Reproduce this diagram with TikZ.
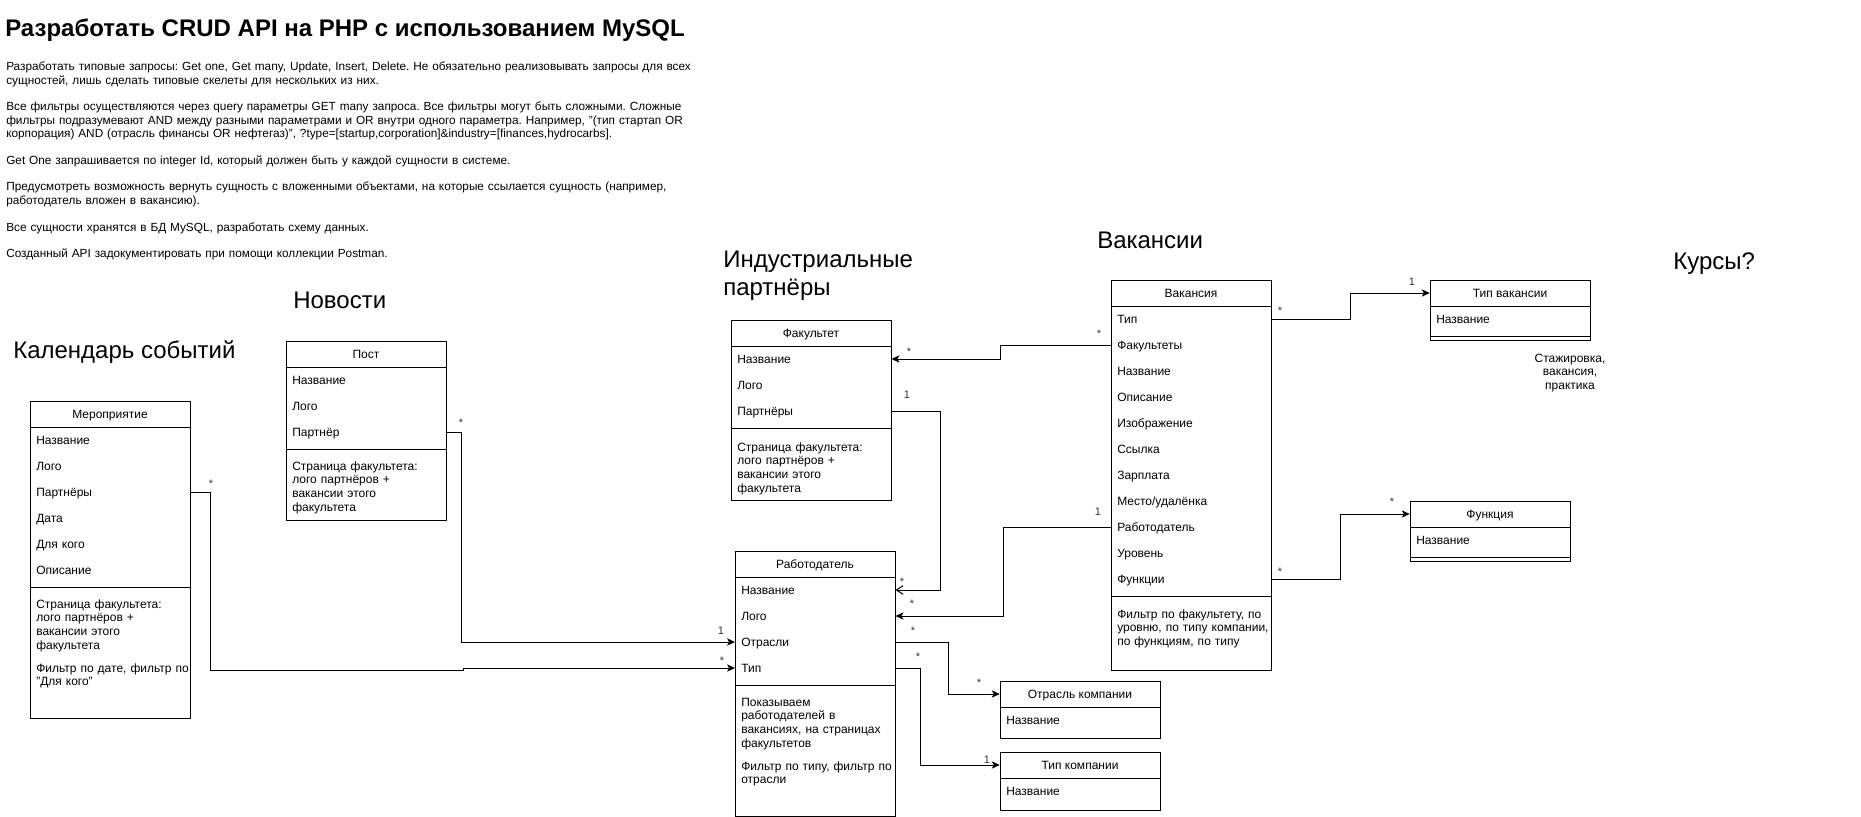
\documentclass[tikz,border=0pt]{standalone}
\usepackage{fontspec}
\setmainfont{Liberation Sans}
\usetikzlibrary{arrows.meta}
\frenchspacing
\newcommand\fBox{\fontsize{9pt}{10.35pt}\selectfont}
\newcommand\fBody{\fontsize{8.85pt}{10pt}\selectfont}
\newcommand\fHead{\fontsize{18pt}{21.6pt}\selectfont}
\newcommand\fTitle{\fontsize{18pt}{21.6pt}\bfseries\selectfont}
\newcommand\fLab{\fontsize{8.25pt}{9.5pt}\selectfont}
\begin{document}
\begin{tikzpicture}[x=0.75pt,y=-0.75pt,
  box/.style={draw=black,line width=0.75pt},
  hdr/.style={inner sep=0pt,minimum width=120pt,minimum height=19.5pt,text height=8pt,text depth=1.6pt,font=\fBox},
  row/.style={anchor=west,inner xsep=4.5pt,inner ysep=0pt,minimum width=120pt,minimum height=19.5pt,text width=111pt,align=left,text height=8pt,text depth=1.6pt,font=\fBox},
  note/.style={anchor=base west,inner sep=0pt,text width=140pt,align=left,font=\fBox},
  body/.style={anchor=base west,inner sep=0pt,text width=600pt,align=left,font=\fBody},
  head/.style={anchor=base west,inner sep=0pt,font=\fHead},
  headm/.style={anchor=base west,inner sep=0pt,text width=220pt,align=left,font=\fHead},
  lab/.style={anchor=base,inner sep=0pt,font=\fLab,text=black!80},
  conn/.style={line width=0.75pt,-{Stealth[length=6pt,width=5.5pt,inset=1.6pt]}},
  openc/.style={line width=0.75pt,-{Straight Barb[length=5pt,width=6.5pt]}},
]
\useasboundingbox (0,0) rectangle (1861,817);
\fill[white] (0,0) rectangle (1861,817);

% ---------- title and description ----------
\node[anchor=base west,inner sep=0pt,font=\fTitle] (title) at (5,37) {Разработать CRUD API на PHP с использованием MySQL};
\node[body] (p1) at (6,71) {Разработать типовые запросы: Get one, Get many, Update, Insert, Delete. Не обязательно реализовывать запросы для всех\\сущностей, лишь сделать типовые скелеты для нескольких из них.};
\node[body] (p2) at (6,110.7) {Все фильтры осуществляются через query параметры GET many запроса. Все фильтры могут быть сложными. Сложные\\фильтры подразумевают AND между разными параметрами и OR внутри одного параметра. Например, "(тип стартап OR\\корпорация) AND (отрасль финансы OR нефтегаз)", ?type=[startup,corporation]\&industry=[finances,hydrocarbs].};
\node[body] (p3) at (6,164) {Get One запрашивается по integer Id, который должен быть у каждой сущности в системе.};
\node[body] (p4) at (6,190.7) {Предусмотреть возможность вернуть сущность с вложенными объектами, на которые ссылается сущность (например,\\работодатель вложен в вакансию).};
\node[body] (p5) at (6,231) {Все сущности хранятся в БД MySQL, разработать схему данных.};
\node[body] (p6) at (6,257.7) {Созданный API задокументировать при помощи коллекции Postman.};

% ---------- headings ----------
\node[head] (hcal) at (13,358) {Календарь событий};
\node[head] (hnews) at (293,308) {Новости};
\node[headm] (hind) at (723,267) {Индустриальные\\партнёры};
\node[head] (hvac) at (1097,248) {Вакансии};
\node[head] (hcourse) at (1673,269) {Курсы?};

% ---------- Мероприятие ----------
\draw[box] (30,401) rectangle (190,718);
\draw[box] (30,427) -- (190,427);
\draw[box] (30,587) -- (190,587);
\node[hdr] (mer) at (110,414) {Мероприятие};
\node[row] (mer-r1) at (30,440) {Название};
\node[row] (mer-r2) at (30,466) {Лого};
\node[row] (mer-r3) at (30,492) {Партнёры};
\node[row] (mer-r4) at (30,518) {Дата};
\node[row] (mer-r5) at (30,544) {Для кого};
\node[row] (mer-r6) at (30,570) {Описание};
\node[note] (mer-n1) at (36,608) {Страница факультета:\\лого партнёров +\\вакансии этого\\факультета};
\node[note] (mer-n2) at (36,672) {Фильтр по дате, фильтр по\\"Для кого"};

% ---------- Пост ----------
\draw[box] (286,341) rectangle (446,520);
\draw[box] (286,367) -- (446,367);
\draw[box] (286,449) -- (446,449);
\node[hdr] (post) at (366,354) {Пост};
\node[row] (post-r1) at (286,380) {Название};
\node[row] (post-r2) at (286,406) {Лого};
\node[row] (post-r3) at (286,432) {Партнёр};
\node[note] (post-n1) at (292,470) {Страница факультета:\\лого партнёров +\\вакансии этого\\факультета};

% ---------- Факультет ----------
\draw[box] (731,320) rectangle (891,500);
\draw[box] (731,346) -- (891,346);
\draw[box] (731,428) -- (891,428);
\node[hdr] (fac) at (811,333) {Факультет};
\node[row] (fac-r1) at (731,359) {Название};
\node[row] (fac-r2) at (731,385) {Лого};
\node[row] (fac-r3) at (731,411) {Партнёры};
\node[note] (fac-n1) at (737,451) {Страница факультета:\\лого партнёров +\\вакансии этого\\факультета};

% ---------- Работодатель ----------
\draw[box] (735,551) rectangle (895,816);
\draw[box] (735,577) -- (895,577);
\draw[box] (735,685) -- (895,685);
\node[hdr] (emp) at (815,564) {Работодатель};
\node[row] (emp-r1) at (735,590) {Название};
\node[row] (emp-r2) at (735,616) {Лого};
\node[row] (emp-r3) at (735,642) {Отрасли};
\node[row] (emp-r4) at (735,668) {Тип};
\node[note] (emp-n1) at (741,706) {Показываем\\работодателей в\\вакансиях, на страницах\\факультетов};
\node[note] (emp-n2) at (741,770) {Фильтр по типу, фильтр по\\отрасли};

% ---------- Вакансия ----------
\draw[box] (1111,280) rectangle (1271,670);
\draw[box] (1111,306) -- (1271,306);
\draw[box] (1111,596) -- (1271,596);
\node[hdr] (vac) at (1191,293) {Вакансия};
\node[row] (vac-r1) at (1111,319) {Тип};
\node[row] (vac-r2) at (1111,345) {Факультеты};
\node[row] (vac-r3) at (1111,371) {Название};
\node[row] (vac-r4) at (1111,397) {Описание};
\node[row] (vac-r5) at (1111,423) {Изображение};
\node[row] (vac-r6) at (1111,449) {Ссылка};
\node[row] (vac-r7) at (1111,475) {Зарплата};
\node[row] (vac-r8) at (1111,501) {Место/удалёнка};
\node[row] (vac-r9) at (1111,527) {Работодатель};
\node[row] (vac-r10) at (1111,553) {Уровень};
\node[row] (vac-r11) at (1111,579) {Функции};
\node[note] (vac-n1) at (1117,618) {Фильтр по факультету, по\\уровню, по типу компании,\\по функциям, по типу};

% ---------- Тип вакансии ----------
\draw[box] (1430,280) rectangle (1590,340);
\draw[box] (1430,306) -- (1590,306);
\draw[box] (1430,336) -- (1590,336);
\node[hdr] (tv) at (1510,293) {Тип вакансии};
\node[row] (tv-r1) at (1430,319) {Название};
\node[anchor=base,inner sep=0pt,text width=90pt,align=center,font=\fBox] (tv-n1) at (1570,362) {Стажировка,\\вакансия,\\практика};

% ---------- Функция ----------
\draw[box] (1410,501) rectangle (1570,561);
\draw[box] (1410,527) -- (1570,527);
\draw[box] (1410,557) -- (1570,557);
\node[hdr] (fn) at (1490,514) {Функция};
\node[row] (fn-r1) at (1410,540) {Название};

% ---------- Отрасль компании ----------
\draw[box] (1000,681) rectangle (1160,738);
\draw[box] (1000,707) -- (1160,707);
\node[hdr] (ind) at (1080,694) {Отрасль компании};
\node[row] (ind-r1) at (1000,720) {Название};

% ---------- Тип компании ----------
\draw[box] (1000,752) rectangle (1160,810);
\draw[box] (1000,778) -- (1160,778);
\node[hdr] (ct) at (1080,765) {Тип компании};
\node[row] (ct-r1) at (1000,791) {Название};

% ---------- connectors ----------
\coordinate (mjog) at (463,670);
\draw[conn] (mer-r3.east) -- ++(20,0) |- (mjog) -- ++(0,-2) -- (emp-r4.west);
\draw[conn] (post-r3.east) -- ++(15,0) |- (emp-r3.west);
\draw[conn] (vac-r2.west) -- ++(-111,0) |- (fac-r1.east);
\draw[openc] (fac-r3.east) -- ++(49,0) |- (emp-r1.east);
\draw[conn] (vac-r9.west) -- ++(-108,0) |- (emp-r2.east);
\draw[conn] (emp-r3.east) -- ++(53,0) |- (ind.west);
\draw[conn] (emp-r4.east) -- ++(25,0) |- (ct.west);
\draw[conn] (vac-r1.east) -- ++(79,0) |- (tv.west);
\draw[conn] (vac-r11.east) -- ++(69,0) |- (fn.west);

% ---------- multiplicities ----------
\node[lab] (l1) at (211,487) {*};
\node[lab] (l2) at (722,664) {*};
\node[lab] (l3) at (461,426) {*};
\node[lab] (l4) at (721,634.6) {1};
\node[lab] (l5) at (1099,337) {*};
\node[lab] (l6) at (909,355) {*};
\node[lab] (l7) at (907,398) {1};
\node[lab] (l8) at (902,585) {*};
\node[lab] (l9) at (1098,515) {1};
\node[lab] (l10) at (912,607) {*};
\node[lab] (l11) at (913,634) {*};
\node[lab] (l12) at (979,686) {*};
\node[lab] (l13) at (918,660) {*};
\node[lab] (l14) at (987,763) {1};
\node[lab] (l15) at (1280,314) {*};
\node[lab] (l16) at (1412,285) {1};
\node[lab] (l17) at (1280,575) {*};
\node[lab] (l18) at (1392,505) {*};
\end{tikzpicture}
\end{document}
